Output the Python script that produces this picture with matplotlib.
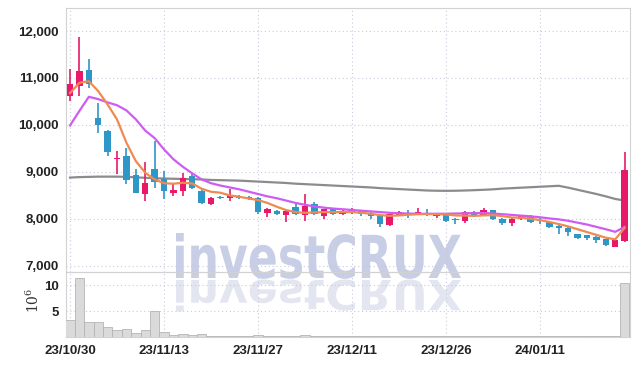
import numpy as np
import pandas as pd
import matplotlib
matplotlib.use('Agg')
import matplotlib.pyplot as plt
from matplotlib.textpath import TextPath
from matplotlib.patches import PathPatch
from matplotlib.font_manager import FontProperties
from matplotlib.transforms import Affine2D

# trading days (KRX holidays removed)
holidays = ['2023-12-25', '2023-12-29', '2024-01-01']
days = [d for d in pd.bdate_range('2023-10-30', '2024-01-24') if d.strftime('%Y-%m-%d') not in holidays]
tick_every = 10

opens = [10627, 10827, 11160, 10138, 9868, 9270, 9336, 8925, 8536, 9053,
         8840, 8557, 8590, 8911, 8590, 8323, 8460, 8450, 8484, 8463,
         8436, 8116, 8166, 8080, 8259, 8074, 8308, 8060, 8202, 8102,
         8132, 8180, 8132, 8074, 7870, 8080, 8116, 8095, 8130, 8060,
         8074, 7990, 7953, 8152, 8080, 8180, 8004, 7912, 7989, 8060,
         7975, 7931, 7847, 7811, 7670, 7650, 7613, 7563, 7406, 7527]
highs = [11200, 11877, 11408, 10472, 9883, 9442, 9515, 9053, 9208, 9655,
         9017, 8734, 8968, 8961, 8641, 8470, 8490, 8641, 8510, 8480,
         8463, 8230, 8200, 8180, 8308, 8521, 8356, 8220, 8238, 8180,
         8238, 8200, 8150, 8090, 8120, 8170, 8180, 8223, 8202, 8100,
         8090, 8020, 8170, 8170, 8230, 8200, 8020, 8020, 8080, 8080,
         8010, 7950, 7860, 7830, 7680, 7660, 7630, 7580, 7560, 9420]
lows = [10500, 10613, 10791, 9833, 9336, 8946, 8734, 8542, 8378, 8663,
        8415, 8484, 8484, 8641, 8308, 8300, 8420, 8378, 8420, 8400,
        8095, 8040, 8080, 7931, 8090, 7953, 8090, 8004, 8090, 8080,
        8110, 8060, 7989, 7833, 7850, 8060, 8020, 8080, 8060, 8010,
        7940, 7900, 7920, 8040, 8070, 7975, 7880, 7847, 7975, 7910,
        7890, 7800, 7670, 7634, 7570, 7560, 7492, 7420, 7400, 7510]
closes = [10862, 11147, 10876, 9996, 9421, 9290, 8830, 8556, 8770, 8783,
          8590, 8612, 8876, 8664, 8344, 8451, 8445, 8500, 8443, 8415,
          8144, 8216, 8102, 8166, 8110, 8272, 8110, 8202, 8102, 8166,
          8188, 8102, 8060, 7883, 8110, 8152, 8090, 8145, 8074, 8095,
          7953, 7970, 8152, 8060, 8180, 7989, 7912, 8004, 8060, 7931,
          7960, 7826, 7797, 7718, 7585, 7585, 7542, 7442, 7542, 9031]

ma_short = [10680, 10898, 10932, 10719, 10436, 10117, 9621, 9230, 8983, 8840,
            8760, 8749, 8770, 8755, 8642, 8578, 8557, 8500, 8472, 8436,
            8400, 8340, 8259, 8187, 8145, 8130, 8138, 8145, 8145, 8145,
            8145, 8130, 8110, 8080, 8065, 8075, 8090, 8100, 8105, 8100,
            8095, 8074, 8070, 8065, 8075, 8080, 8060, 8030, 8025, 8004,
            7975, 7935, 7890, 7840, 7780, 7720, 7660, 7600, 7565, 7810]
ma_mid = [9990, 10300, 10600, 10550, 10480, 10420, 10310, 10120, 9880, 9720,
          9480, 9270, 9110, 8970, 8840, 8760, 8710, 8670, 8630, 8580,
          8530, 8480, 8440, 8390, 8340, 8300, 8265, 8240, 8220, 8205,
          8190, 8175, 8160, 8145, 8130, 8120, 8115, 8110, 8110, 8110,
          8110, 8115, 8120, 8125, 8125, 8115, 8100, 8085, 8070, 8055,
          8035, 8010, 7990, 7960, 7920, 7880, 7830, 7780, 7725, 7830]
ma_long = [8880, 8890, 8895, 8900, 8900, 8900, 8895, 8885, 8875, 8865,
           8860, 8855, 8850, 8845, 8840, 8830, 8825, 8820, 8815, 8805,
           8795, 8785, 8775, 8765, 8750, 8740, 8730, 8720, 8710, 8700,
           8690, 8680, 8670, 8655, 8645, 8635, 8625, 8615, 8605, 8600,
           8598, 8600, 8605, 8612, 8620, 8630, 8645, 8655, 8665, 8675,
           8685, 8695, 8705, 8665, 8620, 8575, 8530, 8480, 8425, 8390]

volume = [3.3, 11.3, 2.8, 2.8, 1.9, 1.35, 1.5, 0.75, 1.35, 5.0,
          0.9, 0.35, 0.55, 0.4, 0.55, 0.2, 0.15, 0.15, 0.15, 0.15,
          0.35, 0.15, 0.15, 0.15, 0.15, 0.3, 0.15, 0.12, 0.12, 0.12,
          0.15, 0.1, 0.2, 0.2, 0.2, 0.1, 0.1, 0.1, 0.1, 0.1,
          0.12, 0.2, 0.2, 0.12, 0.2, 0.2, 0.2, 0.1, 0.1, 0.1,
          0.2, 0.2, 0.1, 0.1, 0.1, 0.1, 0.2, 0.2, 0.1, 10.3]

price_ticks = [7000, 8000, 9000, 10000, 11000, 12000]
vol_ticks = [5, 10]

UP = '#e8196b'
DOWN = '#2f96c8'
GRID = '#c9c9dd'
SPINE = '#d2d2d2'
LABEL_FONT = ['Liberation Sans', 'DejaVu Sans']


def style_axes(ax):
    ax.set_facecolor('none')
    for s in ax.spines.values():
        s.set_color(SPINE)
        s.set_linewidth(0.8)
    ax.grid(True, color=GRID, linestyle=(0, (1, 2.5)), linewidth=0.8)
    ax.tick_params(length=0, labelsize=9.5, colors='#222222', pad=5)
    for lbl in ax.get_xticklabels() + ax.get_yticklabels():
        lbl.set_family(LABEL_FONT)
        lbl.set_fontweight('bold')


def watermark(fig):
    prop = FontProperties(family=['DejaVu Sans'], weight='bold')
    tp = TextPath((0, 0), 'investCRUX', size=100, prop=prop)
    bb = tp.get_extents()
    sx = 285.0 / bb.width
    sy = 45.0 / bb.y1
    x0 = 176 - bb.x0 * sx
    base = 366 - 278
    main = PathPatch(tp, transform=Affine2D().scale(sx, sy).translate(x0, base),
                     facecolor='#c8cee5', edgecolor='none', zorder=-1)
    refl = PathPatch(tp, transform=Affine2D().scale(sx, -sy * 0.7).translate(x0, base - 2),
                     facecolor='#e3e6f0', edgecolor='none', zorder=-1)
    fig.add_artist(refl)
    fig.add_artist(main)


def plot_chart():
    fig = plt.figure(figsize=(6.39, 3.66), dpi=100)
    fig.patch.set_facecolor('white')
    ax = fig.add_axes([66 / 639, (366 - 272) / 366, 564 / 639, 264 / 366])
    axv = fig.add_axes([66 / 639, (366 - 337) / 366, 564 / 639, 65 / 366], sharex=ax)

    x = np.arange(len(closes))
    o = np.array(opens)
    c = np.array(closes)
    colors = [UP if cc >= oo else DOWN for oo, cc in zip(o, c)]

    ax.plot(x, ma_long, color='#8c8c8c', lw=1.6, zorder=2)
    ax.vlines(x, lows, highs, colors=colors, lw=1.2, zorder=3)
    bottoms = np.minimum(o, c)
    heights = np.maximum(np.abs(c - o), 12)
    ax.bar(x, heights, bottom=bottoms, width=0.68, color=colors, zorder=4)
    ax.plot(x, ma_mid, color='#cf5cf2', lw=1.6, zorder=5)
    ax.plot(x, ma_short, color='#ef8a52', lw=1.6, zorder=5)

    ax.set_xlim(-0.43, len(closes) - 0.43)
    ax.set_ylim(6870, 12490)
    ax.set_yticks(price_ticks)
    ax.set_yticklabels(['{:,}'.format(t) for t in price_ticks])
    ticks = x[::tick_every]
    ax.set_xticks(ticks)
    ax.tick_params(labelbottom=False)

    axv.bar(x, volume, width=1.0, color='#dadada', edgecolor='#b4b4b4', linewidth=0.6, zorder=3)
    axv.set_ylim(0, 12.5)
    axv.set_yticks(vol_ticks)
    axv.set_xticks(ticks)
    axv.set_xticklabels([days[i].strftime('%y/%m/%d') for i in ticks])

    style_axes(ax)
    style_axes(axv)
    axv.tick_params(axis='x', pad=6)

    fig.text(33 / 639, (366 - 300) / 366, r'$10^6$', rotation=90, fontsize=10,
             color='#333333', ha='center', va='center', math_fontfamily='dejavuserif')

    watermark(fig)
    fig.savefig('out.png', dpi=100)


if __name__ == '__main__':
    plot_chart()
